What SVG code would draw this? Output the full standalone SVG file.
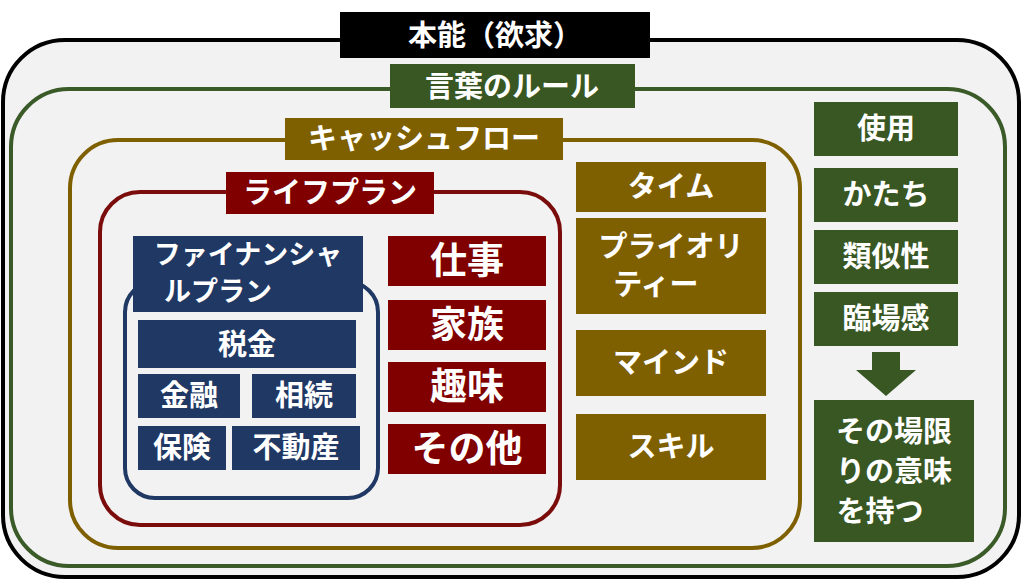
<svg xmlns="http://www.w3.org/2000/svg" width="1024" height="582" viewBox="0 0 1024 582">
<style>
text{font-family:"Noto Sans CJK JP","Noto Sans CJK SC",sans-serif;fill:#fff;text-anchor:middle;font-weight:700}
.f{fill:none;stroke-width:4}
.t{font-size:29px}
.s{font-size:27px}
.b{font-size:37px}
</style>
<rect x="0" y="0" width="1024" height="582" fill="#fff"/>
<g id="frames">
<rect x="3" y="40" width="1016" height="537" rx="62" fill="#f2f2f2" stroke="#000" stroke-width="4"/>
<rect x="11" y="89" width="994" height="477" rx="58" class="f" stroke="#3a5a28"/>
<rect x="70" y="140" width="730" height="408" rx="48" class="f" stroke="#7f6000"/>
<rect x="100" y="192" width="460" height="333" rx="40" class="f" stroke="#7b0c0c"/>
<rect x="125" y="282" width="253" height="216" rx="30" class="f" stroke="#1f3864"/>
</g>
<g id="honno"><rect x="340" y="12" width="310" height="46" fill="#000"/><text x="495" y="46" class="t">本能（欲求）</text></g>
<g id="kotoba"><rect x="390" y="64" width="245" height="44" fill="#385723"/><text x="512" y="97" class="t">言葉のルール</text></g>
<g id="cf"><rect x="285" y="118" width="278" height="42" fill="#7f6000"/><text x="424" y="149" class="t">キャッシュフロー</text></g>
<g id="life"><rect x="226" y="172" width="208" height="42" fill="#800000"/><text x="330" y="203" class="t">ライフプラン</text></g>
<g id="fp"><rect x="133" y="236" width="230" height="76" fill="#1f3864"/><text x="248" y="264" class="s">ファイナンシャ</text><text x="218" y="301" class="s">ルプラン</text></g>
<g id="zei"><rect x="138" y="320" width="218" height="48" fill="#1f3864"/><text x="247" y="355" class="t">税金</text></g>
<g id="kinyu"><rect x="138" y="374" width="102" height="44" fill="#1f3864"/><text x="189" y="406" class="t">金融</text></g>
<g id="sozoku"><rect x="252" y="374" width="104" height="44" fill="#1f3864"/><text x="304" y="406" class="t">相続</text></g>
<g id="hoken"><rect x="138" y="426" width="88" height="44" fill="#1f3864"/><text x="182" y="458" class="t">保険</text></g>
<g id="fudosan"><rect x="232" y="426" width="128" height="44" fill="#1f3864"/><text x="296" y="458" class="t">不動産</text></g>
<g id="shigoto"><rect x="388" y="236" width="158" height="50" fill="#800000"/><text x="467" y="274" class="b">仕事</text></g>
<g id="kazoku"><rect x="388" y="300" width="158" height="50" fill="#800000"/><text x="467" y="338" class="b">家族</text></g>
<g id="shumi"><rect x="388" y="362" width="158" height="50" fill="#800000"/><text x="467" y="400" class="b">趣味</text></g>
<g id="sonota"><rect x="388" y="424" width="158" height="50" fill="#800000"/><text x="467" y="462" class="b">その他</text></g>
<g id="time"><rect x="576" y="162" width="190" height="50" fill="#7f6000"/><text x="671" y="197" class="t">タイム</text></g>
<g id="prio"><rect x="576" y="218" width="190" height="96" fill="#7f6000"/><text x="671" y="257" class="t">プライオリ</text><text x="656" y="295" class="t">ティー</text></g>
<g id="mind"><rect x="576" y="330" width="190" height="66" fill="#7f6000"/><text x="671" y="373" class="t">マインド</text></g>
<g id="skill"><rect x="576" y="414" width="190" height="66" fill="#7f6000"/><text x="671" y="457" class="t">スキル</text></g>
<g id="shiyo"><rect x="814" y="102" width="144" height="54" fill="#385723"/><text x="886" y="139" class="t">使用</text></g>
<g id="katachi"><rect x="814" y="168" width="144" height="54" fill="#385723"/><text x="886" y="205" class="t">かたち</text></g>
<g id="ruiji"><rect x="814" y="230" width="144" height="54" fill="#385723"/><text x="886" y="267" class="t">類似性</text></g>
<g id="rinjo"><rect x="814" y="292" width="144" height="54" fill="#385723"/><text x="886" y="329" class="t">臨場感</text></g>
<g id="connectors"><polygon points="872,352 900,352 900,370 916,370 886,396 856,370 872,370" fill="#385723"/></g>
<g id="imi"><rect x="814" y="400" width="160" height="142" fill="#385723"/><text x="894" y="442" class="t">その場限</text><text x="894" y="482" class="t">りの意味</text><text x="880" y="522" class="t">を持つ</text></g>
</svg>
